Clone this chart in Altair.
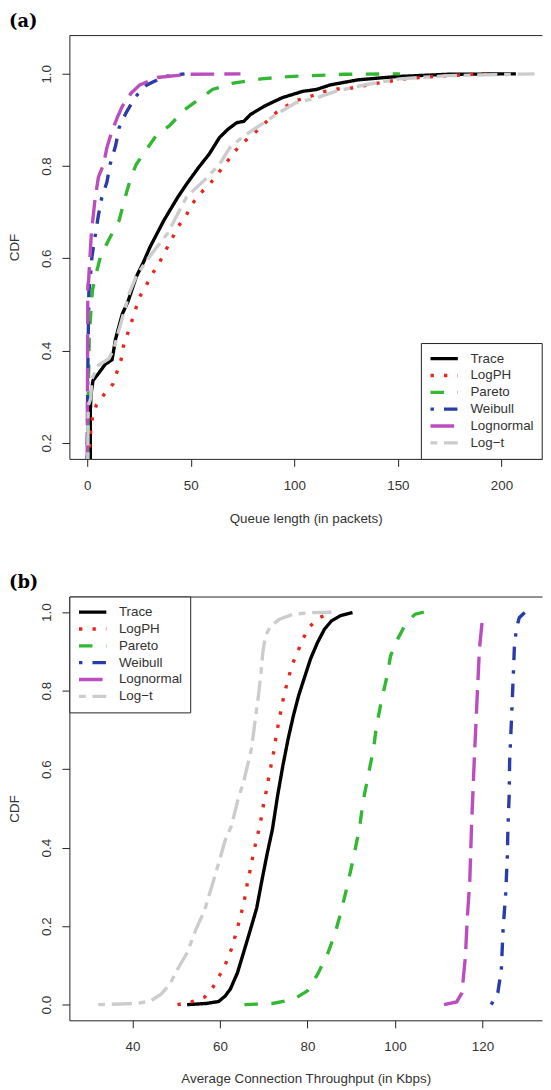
import altair as alt
import pandas as pd

SERIES = ["Trace", "LogPH", "Pareto", "Weibull", "Lognormal", "Log\u2212t"]
COLORS = ["#000000", "#e8261e", "#33b833", "#2a3ca6", "#bb4dbf", "#cccccc"]
DASHES = [[1, 0], [3.4, 10.2], [13.6, 13.6], [3.4, 10.2, 13.6, 10.2],
          [23.8, 10.2], [6.8, 6.8, 20.4, 6.8]]

# ---------------- panel (a): queue length ----------------
a_trace_x = [1.5, 1.5, 1.7, 2.0, 2.8, 5.4, 8.7, 12.0, 13.7, 17.0, 19.6, 23.7, 27.0, 30.4, 37.0,
             43.8, 48.0, 53.8, 58.9, 63.9, 68.0, 72.2, 75.6, 78.9, 85.6, 94.0, 104.0, 110.7,
             117.4, 130.8, 149.0, 174.0, 207.0]
a_trace_y = [0.165, 0.27, 0.29, 0.31, 0.335, 0.35, 0.37, 0.38, 0.425, 0.48, 0.505, 0.56, 0.59,
             0.625, 0.682, 0.733, 0.761, 0.797, 0.826, 0.862, 0.88, 0.894, 0.897, 0.912, 0.93,
             0.948, 0.962, 0.966, 0.976, 0.987, 0.994, 0.999, 1.0]
a_logph_x = [1.2, 1.7, 2.5, 4.5, 8.4, 12.4, 14.4, 16.4, 17.4, 19.4, 21.4, 23.4, 25.4, 28.6, 31.6,
             35.0, 38.0, 41.0, 43.8, 47.7, 50.5, 54.7, 59.2, 63.3, 67.2, 71.0, 75.6, 80.6, 85.6,
             90.0, 95.3, 101.0, 107.7, 114.0, 120.7, 127.4, 140.4, 153.3, 160.9, 174.0, 187.0,
             196.0]
a_logph_y = [0.19, 0.225, 0.254, 0.283, 0.306, 0.327, 0.354, 0.381, 0.408, 0.435, 0.462, 0.49,
             0.517, 0.542, 0.567, 0.592, 0.618, 0.643, 0.668, 0.692, 0.717, 0.741, 0.761, 0.785,
             0.807, 0.831, 0.852, 0.871, 0.892, 0.912, 0.928, 0.942, 0.951, 0.961, 0.967, 0.969,
             0.98, 0.989, 0.992, 0.996, 0.999, 1.0]
a_pareto_x = [0.3, 0.5, 1.0, 2.0, 2.5, 4.5, 6.5, 10.4, 12.9, 15.4, 19.0, 21.2, 23.7, 28.8, 33.8,
              39.6, 47.2, 53.8, 60.5, 70.5, 84.0, 97.3, 124.0, 151.0]
a_pareto_y = [0.165, 0.3, 0.43, 0.5, 0.53, 0.57, 0.605, 0.64, 0.661, 0.682, 0.743, 0.776, 0.804,
              0.837, 0.869, 0.887, 0.923, 0.944, 0.966, 0.98, 0.989, 0.994, 0.999, 1.0]
a_weibull_x = [0.0, 0.3, 0.8, 1.5, 2.3, 5.4, 7.0, 9.5, 11.2, 13.7, 15.4, 18.7, 23.4, 28.8, 37.0,
               47.0]
a_weibull_y = [0.165, 0.36, 0.526, 0.56, 0.604, 0.693, 0.731, 0.765, 0.806, 0.844, 0.883, 0.915,
               0.951, 0.976, 0.994, 1.0]
a_lognorm_x = [0.0, 0.3, 0.7, 2.0, 3.7, 5.4, 7.9, 9.5, 12.0, 14.5, 17.0, 21.2, 25.4, 33.8, 48.8,
               74.0]
a_lognorm_y = [0.165, 0.54, 0.553, 0.654, 0.725, 0.776, 0.804, 0.84, 0.876, 0.905, 0.93, 0.958,
               0.976, 0.992, 0.999, 1.0]
a_logt_x = [0.3, 0.5, 1.7, 2.3, 5.4, 10.4, 12.9, 14.5, 17.0, 20.4, 23.7, 28.8, 33.8, 38.8, 43.8,
            48.0, 52.2, 57.2, 63.9, 68.9, 75.6, 84.0, 92.3, 100.7, 110.7, 120.7, 134.0, 150.8,
            174.0, 216.0]
a_logt_y = [0.165, 0.28, 0.296, 0.339, 0.368, 0.382, 0.403, 0.432, 0.471, 0.525, 0.561, 0.596,
            0.625, 0.654, 0.697, 0.733, 0.751, 0.772, 0.804, 0.84, 0.865, 0.89, 0.915, 0.937,
            0.948, 0.963, 0.976, 0.989, 0.996, 1.0]

# ---------------- panel (b): throughput ----------------
b_trace_x = [52.5, 56.9, 59.7, 61.2, 62.4, 64.0, 65.6, 67.2, 68.4, 69.6, 70.8, 72.0, 73.2, 74.4,
             75.6, 76.8, 78.0, 79.1, 80.7, 82.3, 83.9, 85.5, 87.5, 90.3]
b_trace_y = [0.0, 0.003, 0.008, 0.022, 0.04, 0.081, 0.14, 0.2, 0.246, 0.317, 0.385, 0.447, 0.534,
             0.61, 0.678, 0.737, 0.788, 0.826, 0.881, 0.923, 0.957, 0.978, 0.991, 0.999]
b_logph_x = [50.3, 53.5, 56.5, 58.5, 60.0, 61.4, 62.6, 63.5, 64.3, 65.1, 65.8, 66.3, 67.0, 67.6,
             68.3, 69.0, 69.6, 70.1, 70.8, 71.3, 72.0, 72.5, 73.0, 73.6, 74.2, 74.9, 75.7, 76.6,
             77.8, 79.0, 80.5, 82.6, 85.7]
b_logph_y = [0.0, 0.007, 0.019, 0.046, 0.076, 0.107, 0.141, 0.175, 0.208, 0.243, 0.278, 0.312,
             0.348, 0.383, 0.418, 0.451, 0.485, 0.52, 0.554, 0.59, 0.625, 0.66, 0.695, 0.729,
             0.765, 0.8, 0.834, 0.869, 0.9, 0.933, 0.963, 0.986, 0.998]
b_pareto_x = [65.6, 72.0, 76.8, 80.0, 82.3, 84.7, 86.3, 87.5, 88.7, 89.9, 90.7, 91.9, 92.7, 93.9,
              95.1, 95.8, 97.0, 98.2, 99.0, 100.2, 101.4, 102.6, 104.6, 106.6]
b_pareto_y = [0.0, 0.003, 0.013, 0.035, 0.077, 0.132, 0.182, 0.229, 0.284, 0.343, 0.385, 0.45,
              0.517, 0.585, 0.652, 0.712, 0.779, 0.838, 0.889, 0.923, 0.948, 0.974, 0.995, 1.0]
b_weibull_x = [122.0, 123.5, 124.3, 124.7, 125.3, 125.7, 125.8, 126.1, 126.2, 126.6, 127.0, 127.3,
               127.8, 128.4, 129.7]
b_weibull_y = [0.0, 0.03, 0.089, 0.191, 0.284, 0.385, 0.447, 0.534, 0.619, 0.72, 0.83, 0.915,
               0.961, 0.986, 1.0]
b_lognorm_x = [111.2, 114.1, 115.3, 116.1, 116.5, 117.1, 117.5, 118.1, 118.8, 119.3, 120.0]
b_lognorm_y = [0.0, 0.007, 0.03, 0.123, 0.216, 0.317, 0.455, 0.619, 0.788, 0.906, 0.985]
b_logt_x = [32.2, 41.0, 44.1, 46.5, 48.5, 50.5, 52.5, 54.5, 56.5, 58.1, 59.7, 61.2, 62.6, 64.0,
            65.6, 67.2, 68.0, 68.8, 69.4, 69.8, 70.4, 71.6, 73.6, 76.8, 80.7, 85.5]
b_logt_y = [0.0, 0.003, 0.009, 0.026, 0.051, 0.094, 0.132, 0.191, 0.241, 0.3, 0.36, 0.419, 0.455,
            0.517, 0.576, 0.652, 0.72, 0.788, 0.847, 0.898, 0.94, 0.965, 0.982, 0.995, 0.999, 1.0]

A_XTICKS = [0, 50, 100, 150, 200]
A_YTICKS = [0.2, 0.4, 0.6, 0.8, 1.0]
B_XTICKS = [40, 60, 80, 100, 120]
B_YTICKS = [0.0, 0.2, 0.4, 0.6, 0.8, 1.0]

W, H = 477.3, 428
FONT = "Liberation Sans"
TXT = "#333333"
FS = 13.5


def frame(xs_list, ys_list):
    rows = []
    for s, xs, ys in zip(SERIES, xs_list, ys_list):
        for i, (x, y) in enumerate(zip(xs, ys)):
            rows.append({"series": s, "x": x, "y": y, "i": i})
    return pd.DataFrame(rows)


def panel(df, label, xdom, xticks, xfmt, xtitle, xtitle_y, ydom, yticks, lorient):
    xs = alt.Scale(domain=xdom, nice=False, zero=False)
    ys = alt.Scale(domain=ydom, nice=False, zero=False)
    y_enc = alt.Y("y:Q", scale=ys,
                  axis=alt.Axis(values=yticks, format=".1f", title="CDF", labelAngle=270,
                                labelAlign="center", labelBaseline="alphabetic",
                                titleAngle=270, titleX=-51, titleY=H / 2,
                                titleBaseline="alphabetic", titleAlign="center"))
    leg = alt.Legend(title=None, orient=lorient, offset=0, padding=7.5,
                     strokeColor="#222222", fillColor="white", cornerRadius=0,
                     symbolType="stroke", symbolSize=762, symbolStrokeWidth=3.4,
                     symbolOffset=0, clipHeight=16.6, rowPadding=0,
                     labelFont=FONT, labelFontSize=FS, labelColor=TXT, labelOffset=10.5,
                     labelLimit=300)
    lines = alt.Chart(df).mark_line(strokeWidth=3.4, strokeCap="butt", clip=True).encode(
        x=alt.X("x:Q", scale=xs,
                axis=alt.Axis(orient="bottom", values=xticks, format=xfmt, title=xtitle,
                              labelPadding=12,
                              titleX=W / 2, titleY=xtitle_y, titleBaseline="alphabetic",
                              titleAlign="center")),
        y=y_enc,
        color=alt.Color("series:N", scale=alt.Scale(domain=SERIES, range=COLORS), legend=leg),
        strokeDash=alt.StrokeDash("series:N", scale=alt.Scale(domain=SERIES, range=DASHES),
                                  legend=leg),
        order=alt.Order("i:Q"),
    )
    top = alt.Chart(df).mark_line(opacity=0, strokeWidth=0).encode(
        x=alt.X("x:Q", scale=xs,
                axis=alt.Axis(orient="top", labels=False, ticks=False, title=None, domain=True,
                              tickSize=0, labelPadding=0, minExtent=0, maxExtent=0,
                              offset=0)),
        y=y_enc,
    )
    return alt.layer(lines, top).resolve_axis(x="independent").properties(
        width=W, height=H,
        title=alt.TitleParams(text=label, anchor="start", frame="group", dx=-61, offset=-10,
                              fontSize=18, font="DejaVu Serif", fontWeight="bold",
                              color="#000000", baseline="alphabetic"),
    )


dfa = frame([a_trace_x, a_logph_x, a_pareto_x, a_weibull_x, a_lognorm_x, a_logt_x],
            [a_trace_y, a_logph_y, a_pareto_y, a_weibull_y, a_lognorm_y, a_logt_y])
dfb = frame([b_trace_x, b_logph_x, b_pareto_x, b_weibull_x, b_lognorm_x, b_logt_x],
            [b_trace_y, b_logph_y, b_pareto_y, b_weibull_y, b_lognorm_y, b_logt_y])

pa = panel(dfa, "(a)", [-8.6, 219.6], A_XTICKS, "d", "Queue length (in packets)", 63.8,
           [0.165, 1.084], A_YTICKS, "bottom-right")
pb = panel(dfb, "(b)", [25.6, 133.6], B_XTICKS, "d", "Average Connection Throughput (in Kbps)",
           62.5, [-0.04, 1.04], B_YTICKS, "top-left")

chart = alt.vconcat(pa, pb, spacing=49).resolve_scale(
    x="independent", y="independent", color="independent", strokeDash="independent"
).resolve_legend(color="independent", strokeDash="independent").configure(
    padding={"left": 0, "top": 0, "right": 0, "bottom": 0},
    background="white",
).configure_view(stroke=None).configure_axis(
    grid=False, domainColor="#222222", domainWidth=1, tickColor="#222222", tickWidth=1,
    tickSize=7.5, labelPadding=12, labelFont=FONT, labelFontSize=FS, labelColor=TXT,
    titleFont=FONT, titleFontSize=FS, titleColor=TXT, titleFontWeight="normal",
    labelOverlap=False, labelFlush=False,
)

chart.save("out.html", embed_options={"renderer": "svg", "actions": False})
